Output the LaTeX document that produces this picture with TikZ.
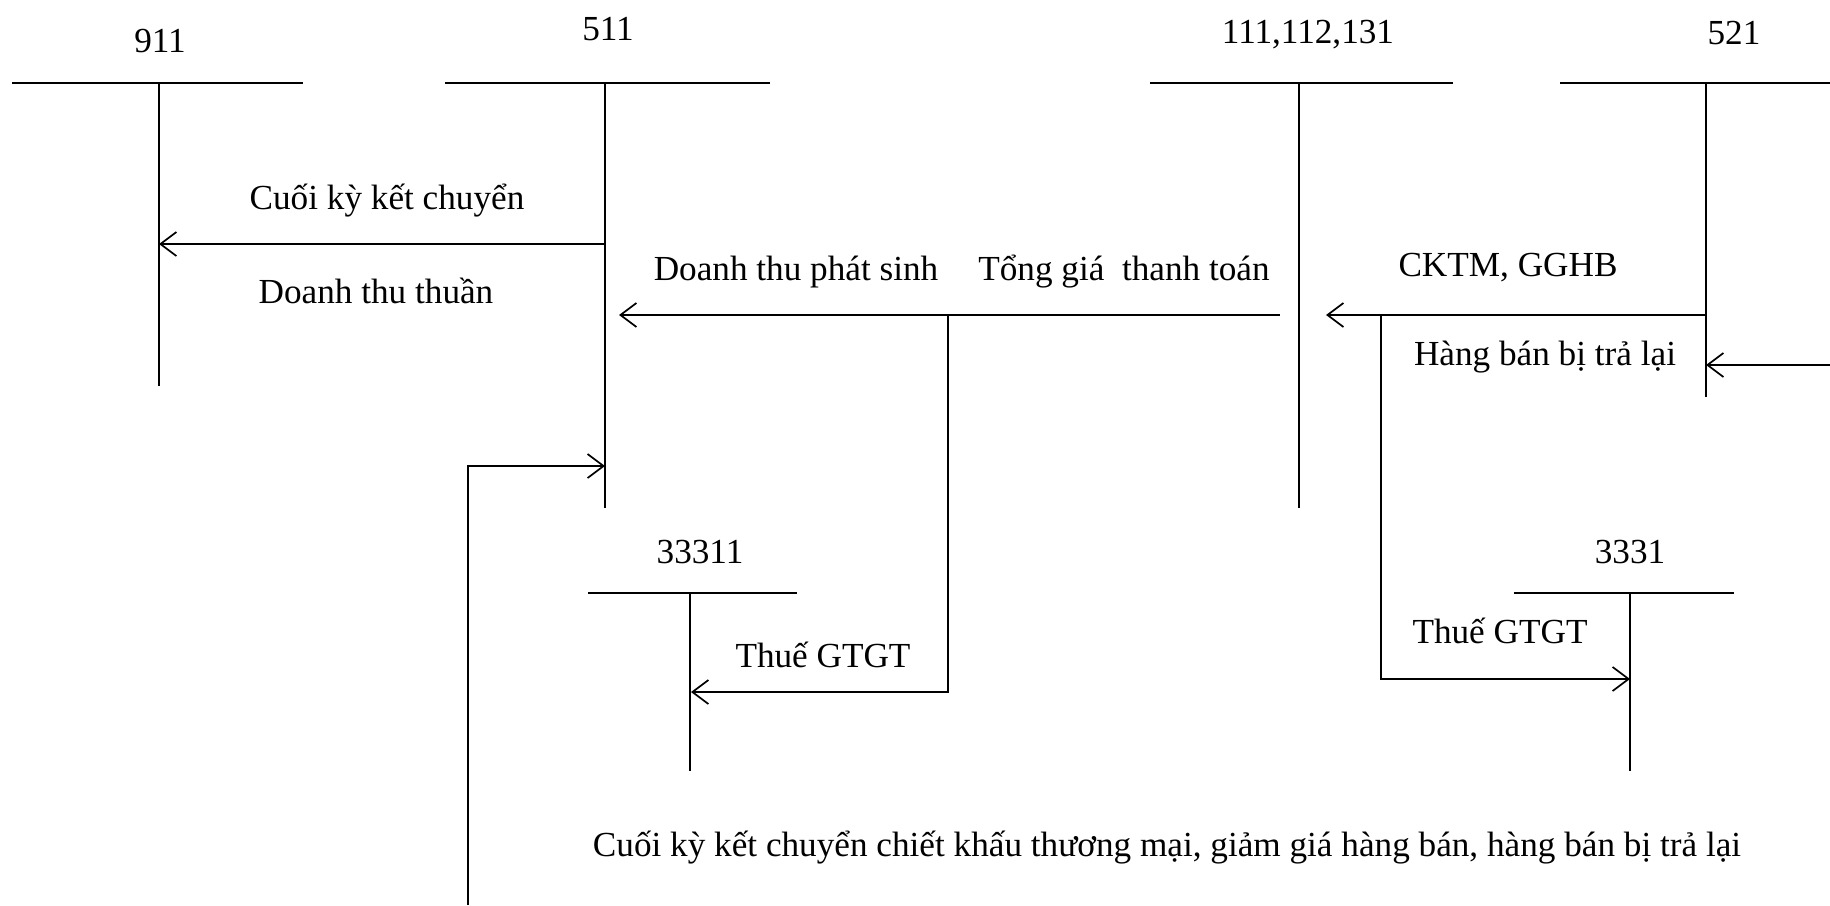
\documentclass[tikz,border=0pt]{standalone}
\usepackage{fontspec}
\setmainfont{Liberation Serif}
\usetikzlibrary{arrows.meta, positioning, calc}

\begin{document}
\begin{tikzpicture}[x=0.5pt, y=-0.5pt,
    acc/.style={line width=1.1pt},
    leg/.style={line width=0.75pt},
    flow/.style={line width=0.85pt, -{Straight Barb[length=8pt, width=12pt]}},
    lbl/.style={font=\fontsize{17.6}{21}\selectfont, inner sep=0pt}]
    \useasboundingbox (0,0) rectangle (1830,905);

    % Accounts
    \node[lbl] (n911) at (160,41) {911};
    \draw[acc] (12,83) -- (303,83);
    \draw[leg] (159,83) -- (159,386);

    \node[lbl] (n511) at (608,29) {511};
    \draw[acc] (445,83) -- (770,83);
    \draw[leg] (605,83) -- (605,508);

    \node[lbl] (n111) at (1308,35) {111,112,131};
    \draw[acc] (1150,83) -- (1453,83);
    \draw[leg] (1299,83) -- (1299,508);

    \node[lbl] (n521) at (1734,33) {521};
    \draw[acc] (1560,83) -- (1830,83);
    \draw[leg] (1706,83) -- (1706,397);

    \node[lbl] (n33311) at (700,552) {33311};
    \draw[acc] (588,593) -- (797,593);
    \draw[leg] (690,593) -- (690,771);

    \node[lbl] (n3331) at (1630,552) {3331};
    \draw[acc] (1514,593) -- (1734,593);
    \draw[leg] (1630,593) -- (1630,771);

    % Connector points
    \coordinate (k511) at (605,244);
    \coordinate (k911) at (159,244);
    \coordinate (s111) at (1280,315);
    \coordinate (s511) at (619,315);
    \coordinate (s33311) at (691,692);
    \coordinate (c521) at (1706,315);
    \coordinate (c111) at (1326,315);
    \coordinate (c3331) at (1630,679);
    \coordinate (r521) at (1706,365);
    \coordinate (redge) at (1830,365);
    \coordinate (bstart) at (468,905);
    \coordinate (b511) at (605,466);

    % Arrows
    \draw[flow] (k511) -- (k911);
    \draw[flow] (s111) -- (s511);
    \draw[flow] (948,315) |- (s33311);
    \draw[flow] (c521) -- (c111);
    \draw[flow] (1381,315) |- (c3331);
    \draw[flow] (redge) -- (r521);
    \draw[flow] (bstart) |- (b511);

    % Labels
    \node[lbl] (t1) at (387,201) {Cuối kỳ kết chuyển};
    \node[lbl] (t2) at (376,291) {Doanh thu thuần};
    \node[lbl] (t3) at (796,272) {Doanh thu phát sinh};
    \node[lbl] (t4) at (1124,272) {Tổng giá\ \ thanh toán};
    \node[lbl] (t5) at (1508,268) {CKTM, GGHB};
    \node[lbl] (t6) at (1545,357) {Hàng bán bị trả lại};
    \node[lbl] (t7) at (823,655) {Thuế GTGT};
    \node[lbl] (t8) at (1500,631) {Thuế GTGT};
    \node[lbl] (t9) at (1167,848) {Cuối kỳ kết chuyển chiết khấu thương mại, giảm giá hàng bán, hàng bán bị trả lại};
\end{tikzpicture}
\end{document}
